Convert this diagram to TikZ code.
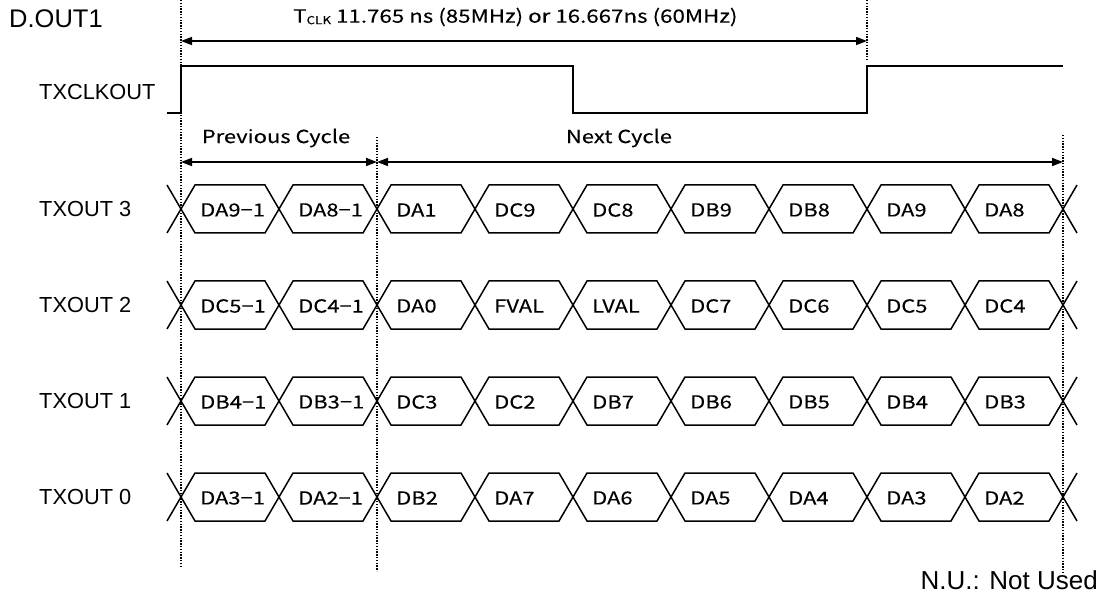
\documentclass[tikz,border=0pt]{standalone}
\usepackage{fontspec}
\setmainfont{Liberation Sans}
\newfontfamily\jp[FakeStretch=1.22,FakeBold=0.15]{Noto Sans CJK JP}
\usetikzlibrary{arrows.meta}
\begin{document}
\begin{tikzpicture}[x=1pt,y=-1pt,
  sig/.style={line width=1.5pt, line join=miter},
  guide/.style={line width=1.4pt, dash pattern=on 1.4pt off 1.4pt},
  dimarrow/.style={line width=1.6pt, {Triangle[length=11pt,width=8pt]}-{Triangle[length=11pt,width=8pt]}},
  lbl/.style={font=\fontsize{21.8}{24}\selectfont, anchor=west, inner sep=0pt},
  cell/.style={font=\jp\fontsize{18}{20}\selectfont, anchor=west, inner sep=0pt},
  jplbl/.style={font=\jp\fontsize{18}{20}\selectfont, inner sep=0pt},
]
\useasboundingbox (0,0) rectangle (1101,596);

% titles
\node[font=\fontsize{25.5}{27}\selectfont, anchor=west, inner sep=0pt] (title) at (9,19) {D.OUT1};
\node[font=\fontsize{26}{28}\selectfont, anchor=east, inner sep=0pt] (nu) at (1098,580) {N.U.: Not Used};

% guides
\coordinate (g1t) at (181,0);   \coordinate (g1b) at (181,567);
\coordinate (g2t) at (377,137); \coordinate (g2b) at (377,571);
\coordinate (g3t) at (867,0);   \coordinate (g3b) at (867,60);
\coordinate (g4t) at (1063,135);\coordinate (g4b) at (1063,572);
\draw[guide] (g1t) -- (g1b);
\draw[guide] (g2t) -- (g2b);
\draw[guide] (g3t) -- (g3b);
\draw[guide] (g4t) -- (g4b);

% period arrow
\coordinate (ta) at (181,41); \coordinate (tb) at (867,41);
\draw[dimarrow] (ta) -- (tb);
\node[jplbl, anchor=west, font=\jp\fontsize{18.3}{20}\selectfont] (tclk) at (293,17) {T\raisebox{-1.5pt}{\fontsize{11}{12}\selectfont CLK} 11.765 ns (85MHz) or 16.667ns (60MHz)};

% cycle arrows
\coordinate (pa) at (181,162); \coordinate (pb) at (377,162); \coordinate (nb) at (1063,162);
\draw[dimarrow] (pa) -- (pb);
\draw[dimarrow] (pb) -- (nb);
\node[jplbl] (prev) at (276,138) {Previous Cycle};
\node[jplbl] (next) at (619,138) {Next Cycle};

% clock
\node[lbl] (clkl) at (39,92) {TXCLKOUT};
\draw[sig] (167,113) -- (181,113) -- (181,66) -- (573,66) -- (573,113) -- (867,113) -- (867,66) -- (1063,66);

% data rows
\foreach \nm/\yc/\labels in {
  3/209/{DA9−1,DA8−1,DA1,DC9,DC8,DB9,DB8,DA9,DA8},
  2/305/{DC5−1,DC4−1,DA0,FVAL,LVAL,DC7,DC6,DC5,DC4},
  1/401/{DB4−1,DB3−1,DC3,DC2,DB7,DB6,DB5,DB4,DB3},
  0/497/{DA3−1,DA2−1,DB2,DA7,DA6,DA5,DA4,DA3,DA2}} {
  \node[lbl] (row\nm) at (39,\yc) {TXOUT \nm};
  \draw[sig] (167,\yc-24) -- (181,\yc) -- (167,\yc+24);
  \draw[sig] (1077,\yc-24) -- (1063,\yc) -- (1077,\yc+24);
  \foreach \t [count=\k from 0] in \labels {
    \pgfmathsetmacro{\xa}{181+98*\k}
    \pgfmathsetmacro{\xb}{\xa+98}
    \draw[sig] (\xa,\yc) -- (\xa+14,\yc-24) -- (\xb-14,\yc-24) -- (\xb,\yc) -- (\xb-14,\yc+24) -- (\xa+14,\yc+24) -- cycle;
    \node[cell] (c\nm-\k) at (\xa+19,\yc+1) {\t};
  }
}
\end{tikzpicture}
\end{document}
